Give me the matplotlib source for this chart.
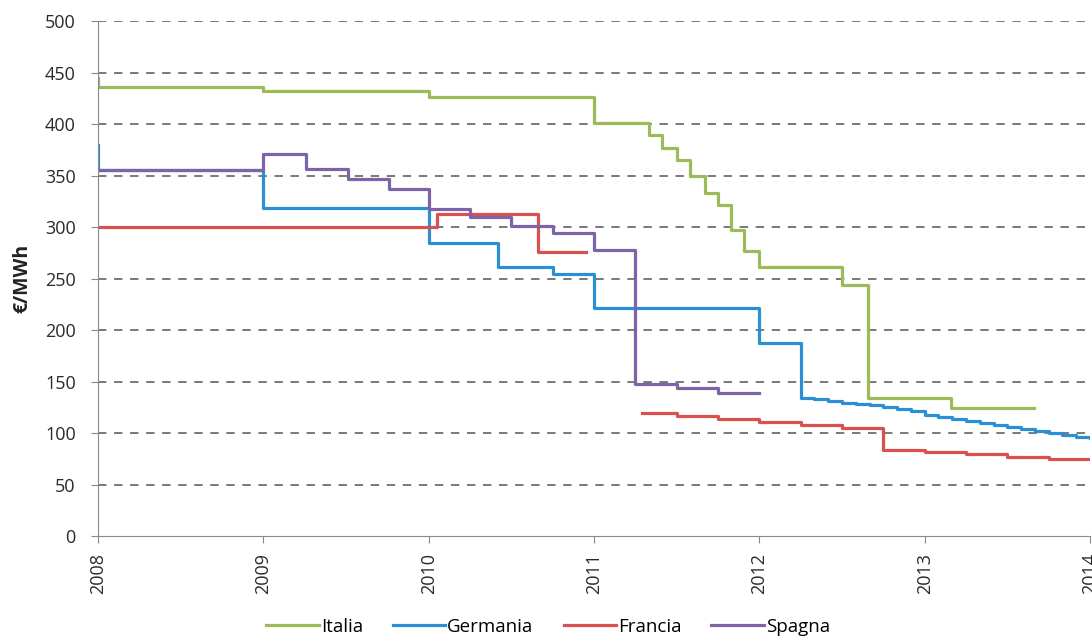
import matplotlib
matplotlib.use('Agg')
import matplotlib.pyplot as plt
import numpy as np

plt.rcParams['font.family'] = ['Open Sans', 'DejaVu Sans']

# dati (anno frazionario, €/MWh) - tariffe a gradini
x_italia = [2008, 2008, 2009, 2010, 2011, 2011.33, 2011.41, 2011.5, 2011.58, 2011.67,
            2011.75, 2011.83, 2011.91, 2012.0, 2012.5, 2012.66, 2013.16, 2013.66]
y_italia = [445, 436, 432, 426, 401, 389, 377, 365, 350, 333,
            321, 297, 277, 261, 244, 134, 124, 124]

x_germania = [2008, 2008, 2009, 2010, 2010.42, 2010.75, 2011.0, 2012.0, 2012.25,
              2012.333, 2012.417, 2012.5, 2012.583, 2012.667, 2012.75, 2012.833, 2012.917,
              2013.0, 2013.083, 2013.167, 2013.25, 2013.333, 2013.417, 2013.5, 2013.583,
              2013.667, 2013.75, 2013.833, 2013.917, 2014.0]
y_germania = [380, 355, 319, 285, 261, 254, 221, 187, 134,
              133, 131, 129, 128, 127, 125, 123, 121,
              118, 116, 114, 112, 110, 108, 106, 104,
              102, 100, 98, 96, 95]

x_francia_1 = [2008, 2010.05, 2010.66, 2010.95]
y_francia_1 = [300, 313, 276, 276]
x_francia_2 = [2011.29, 2011.5, 2011.75, 2012.0, 2012.25, 2012.5, 2012.75, 2013.0,
               2013.25, 2013.5, 2013.75, 2014.0]
y_francia_2 = [120, 117, 114, 111, 108, 105, 84, 82, 80, 77, 75, 75]

x_spagna = [2008, 2009, 2009.26, 2009.51, 2009.76, 2010, 2010.25, 2010.5, 2010.75,
            2011.0, 2011.25, 2011.5, 2011.75, 2012.0]
y_spagna = [355, 371, 356, 347, 337, 318, 310, 301, 294, 278, 148, 144, 139, 139]

anni = [2008, 2009, 2010, 2011, 2012, 2013, 2014]

c_italia = '#9bbb59'
c_germania = '#2b8fd6'
c_francia = '#d9504e'
c_spagna = '#7f63a8'

fig = plt.figure(figsize=(10.92, 6.39), dpi=100)
ax = fig.add_axes([0.0897, 0.161, 0.9085, 0.806])

lw = 2.3
ax.plot(x_italia, y_italia, drawstyle='steps-post', color=c_italia, lw=lw, label='Italia')
ax.plot(x_germania, y_germania, drawstyle='steps-post', color=c_germania, lw=lw, label='Germania')
ax.plot(x_francia_1, y_francia_1, drawstyle='steps-post', color=c_francia, lw=lw, label='Francia')
ax.plot(x_francia_2, y_francia_2, drawstyle='steps-post', color=c_francia, lw=lw)
ax.plot(x_spagna, y_spagna, drawstyle='steps-post', color=c_spagna, lw=lw, label='Spagna')

ax.set_xlim(2008, 2014)
ax.set_ylim(0, 500)
ax.set_yticks(np.arange(0, 501, 50))
ax.set_xticks(anni)
ax.set_xticklabels([str(a) for a in anni], rotation=90)

# griglia tratteggiata
for v in range(50, 501, 50):
    ax.axhline(v, color='#555555', lw=1.1, dashes=(5.5, 5), zorder=0)

for s in ['top', 'right']:
    ax.spines[s].set_visible(False)
ax.spines['left'].set_color('#8a8a8a')
ax.spines['bottom'].set_color('#8a8a8a')
ax.tick_params(axis='both', colors='#8a8a8a', labelcolor='#2a2a2a', labelsize=13, length=5)
ax.tick_params(axis='y', pad=11)
ax.tick_params(axis='x', pad=7)

ax.set_ylabel('€/MWh', fontsize=14, fontweight='bold', color='#222222')
ax.yaxis.set_label_coords(-0.066, 0.5)

ax.legend(loc='center', bbox_to_anchor=(0.502, 0.019), bbox_transform=fig.transFigure,
          ncol=4, frameon=False, fontsize=13.5, handlelength=2.8, handletextpad=0.1,
          columnspacing=1.6)

fig.savefig('out.png', dpi=100)
